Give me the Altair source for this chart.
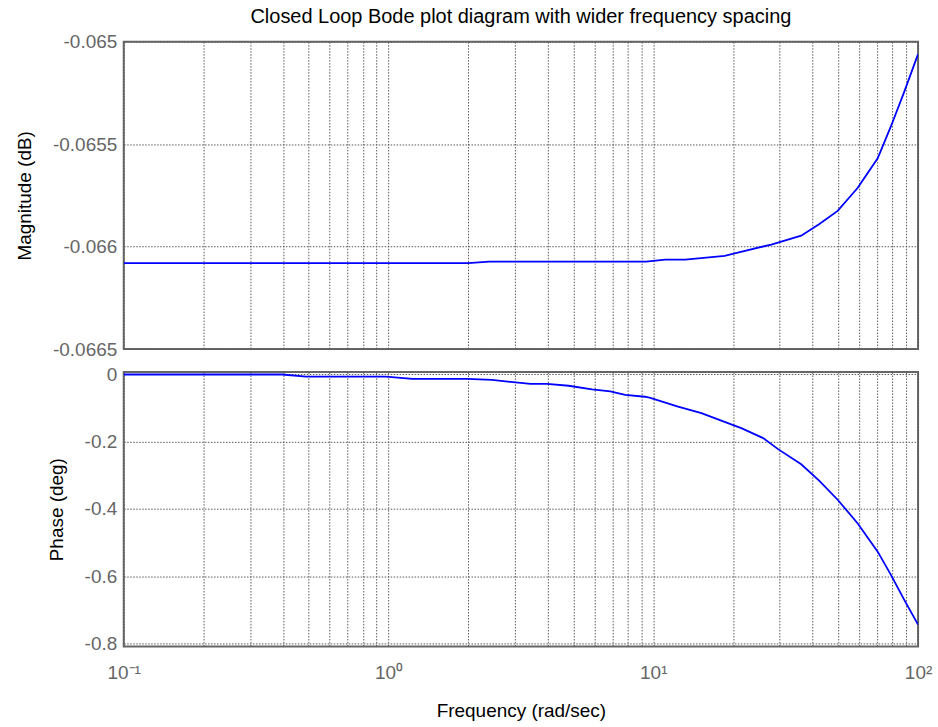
import altair as alt
import pandas as pd

# ---- data ----
mag_freq = [0.1, 2.0, 2.4, 9.4, 11.1, 13.2, 18.6, 27.9, 36.2, 42.4, 49.7, 59.1, 70.4, 78.9, 88.6, 100.0]
mag_db = [-0.066081, -0.066081, -0.066073, -0.066073, -0.066064, -0.066064, -0.066045, -0.065990,
          -0.065947, -0.065890, -0.065826, -0.065714, -0.065569, -0.065415, -0.065246, -0.065061]

ph_freq = [0.1, 0.396, 0.489, 0.978, 1.23, 1.98, 2.46, 3.44, 3.97, 4.79, 5.87, 6.88, 7.83, 9.31, 9.75,
           12.4, 15.2, 19.7, 21.5, 26.0, 29.6, 36.2, 42.4, 49.7, 59.1, 70.4, 78.9, 88.6, 100.0]
ph_deg = [-0.001, -0.001, -0.0074, -0.0074, -0.0142, -0.0142, -0.0172, -0.029, -0.029, -0.0344,
          -0.0453, -0.0513, -0.0616, -0.067, -0.0705, -0.0963, -0.1159, -0.149, -0.1603, -0.1899,
          -0.2225, -0.2676, -0.3164, -0.3727, -0.4424, -0.5268, -0.595, -0.6693, -0.7433]

x_grid_vals = [0.1, 0.2, 0.3, 0.4, 0.5, 0.6, 0.7, 0.8, 0.9,
               1, 2, 3, 4, 5, 6, 7, 8, 9,
               10, 20, 30, 40, 50, 60, 70, 80, 90, 100]
mag_ticks = [-0.0665, -0.066, -0.0655, -0.065]
ph_ticks = [-0.8, -0.6, -0.4, -0.2, 0]

mag_df = pd.DataFrame({"freq": mag_freq, "mag": mag_db})
ph_df = pd.DataFrame({"freq": ph_freq, "phase": ph_deg})

FONT = "Liberation Sans"
num_label = "(datum.value < 0 ? '-' : '') + format(abs(datum.value), '~g')"
x_label = ("datum.value == 0.1 ? '10⁻¹' : datum.value == 1 ? '10⁰' : "
           "datum.value == 10 ? '10¹' : datum.value == 100 ? '10²' : ''")

xscale = alt.Scale(type="log", domain=[0.1, 100], nice=False)

top = alt.Chart(mag_df).mark_line(color="#0000ff", strokeWidth=1.8, clip=True).encode(
    x=alt.X("freq:Q", scale=xscale, title=None,
            axis=alt.Axis(values=x_grid_vals, labels=False, ticks=False, domain=False, grid=True)),
    y=alt.Y("mag:Q", title="Magnitude (dB)",
            scale=alt.Scale(domain=[-0.0665, -0.065], nice=False, zero=False),
            axis=alt.Axis(values=mag_ticks, labelExpr=num_label, ticks=False, domain=False,
                          labelPadding=7, titlePadding=18, labelOverlap=False)),
).properties(
    width=796, height=308,
    title=alt.TitleParams("Closed Loop Bode plot diagram with wider frequency spacing",
                          anchor="middle", frame="group", baseline="alphabetic", offset=-10,
                          font=FONT, fontSize=20, fontWeight="normal", color="#000000"),
)

bottom = alt.Chart(ph_df).mark_line(color="#0000ff", strokeWidth=1.8, clip=True).encode(
    x=alt.X("freq:Q", scale=xscale, title="Frequency  (rad/sec)",
            axis=alt.Axis(values=x_grid_vals, labelExpr=x_label, ticks=False, domain=False, grid=True,
                          labelPadding=17, titlePadding=19, labelFlush=False, labelOverlap=False)),
    y=alt.Y("phase:Q", title="Phase (deg)",
            scale=alt.Scale(domain=[-0.808, 0.0065], nice=False, zero=False),
            axis=alt.Axis(values=ph_ticks, labelExpr=num_label, ticks=False, domain=False,
                          labelPadding=7, titlePadding=18, labelOverlap=False)),
).properties(width=796, height=275)

chart = alt.vconcat(top, bottom, spacing=4).properties(
    padding={"left": 14, "top": 5, "right": 5, "bottom": 5},
    background="white",
).configure_view(
    stroke="#666666", strokeWidth=2
).configure_axis(
    gridColor="#5a5a5a", gridDash=[1.5, 1.5], gridWidth=1, gridOpacity=1,
    labelFont=FONT, labelFontSize=19, labelColor="#666666",
    titleFont=FONT, titleFontSize=19, titleColor="#000000", titleFontWeight="normal",
)

chart.save("out.html", embed_options={"renderer": "svg", "actions": False})
